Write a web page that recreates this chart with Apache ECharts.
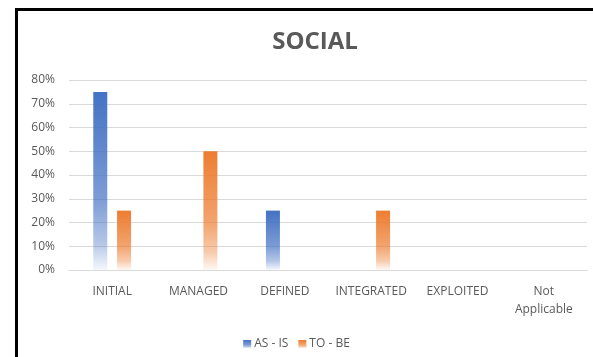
<!DOCTYPE html>
<html>
<head>
<meta charset="utf-8">
<script src="https://cdn.jsdelivr.net/npm/echarts@6/dist/echarts.min.js"></script>
<style>
html,body{margin:0;padding:0;background:#fff;}
#c{width:593px;height:357px;}
</style>
</head>
<body>
<div id="c"></div>
<script>
const titleText = 'SOCIAL';
const categories = ['INITIAL', 'MANAGED', 'DEFINED', 'INTEGRATED', 'EXPLOITED', 'Not\nApplicable'];
const seriesNames = ['AS - IS', 'TO - BE'];
const asIs = [0.75, 0, 0.25, 0, 0, 0];
const toBe = [0.25, 0.5, 0, 0.25, 0, 0];
const yTicks = [0, 0.1, 0.2, 0.3, 0.4, 0.5, 0.6, 0.7, 0.8];

const FONT = '"Open Sans", sans-serif';
const TXT = '#595959';

function grad(r, g, b) {
  return new echarts.graphic.LinearGradient(0, 0, 0, 1, [
    { offset: 0, color: `rgba(${r},${g},${b},1)` },
    { offset: 0.6, color: `rgba(${r},${g},${b},0.7)` },
    { offset: 0.85, color: `rgba(${r},${g},${b},0.4)` },
    { offset: 1, color: `rgba(${r},${g},${b},0.05)` }
  ]);
}

const chart = echarts.init(document.getElementById('c'), null, { renderer: 'canvas' });
chart.setOption({
  animation: false,
  backgroundColor: '#fff',
  textStyle: { fontFamily: FONT },
  title: {
    text: titleText,
    left: 310, textAlign: 'center', top: 25,
    textStyle: { fontFamily: FONT, fontWeight: 'bold', fontSize: 24, color: TXT }
  },
  graphic: [
    { type: 'line', shape: { x1: 16.5, y1: 9.5, x2: 593, y2: 9.5 }, style: { stroke: '#000', lineWidth: 3 } },
    { type: 'line', shape: { x1: 16.5, y1: 8, x2: 16.5, y2: 357 }, style: { stroke: '#000', lineWidth: 3 } }
  ],
  legend: {
    data: seriesNames,
    bottom: 2, left: 'center',
    itemWidth: 8, itemHeight: 8, itemGap: 10,
    icon: 'rect',
    textStyle: { fontFamily: FONT, fontSize: 12, color: TXT, padding: [0, 0, 0, -2] }
  },
  grid: { left: 69, right: 6, top: 80, bottom: 87, containLabel: false },
  xAxis: {
    type: 'category',
    data: categories,
    axisLine: { lineStyle: { color: '#d9d9d9', width: 1 } },
    axisTick: { show: false },
    axisLabel: { fontFamily: FONT, fontSize: 12, color: TXT, margin: 13, lineHeight: 18, interval: 0 }
  },
  yAxis: {
    type: 'value',
    min: yTicks[0], max: yTicks[yTicks.length - 1], interval: 0.1,
    axisLine: { show: false },
    axisTick: { show: false },
    splitLine: { lineStyle: { color: '#d9d9d9', width: 1 } },
    axisLabel: {
      fontFamily: FONT, fontSize: 12, color: TXT, margin: 14,
      formatter: v => Math.round(v * 100) + '%'
    }
  },
  series: [
    { name: seriesNames[0], type: 'bar', data: asIs, barWidth: 14, barGap: '70%',
      itemStyle: { color: grad(68, 114, 196) } },
    { name: seriesNames[1], type: 'bar', data: toBe, barWidth: 14, barGap: '70%',
      itemStyle: { color: grad(237, 125, 49) } }
  ]
});
</script>
</body>
</html>
